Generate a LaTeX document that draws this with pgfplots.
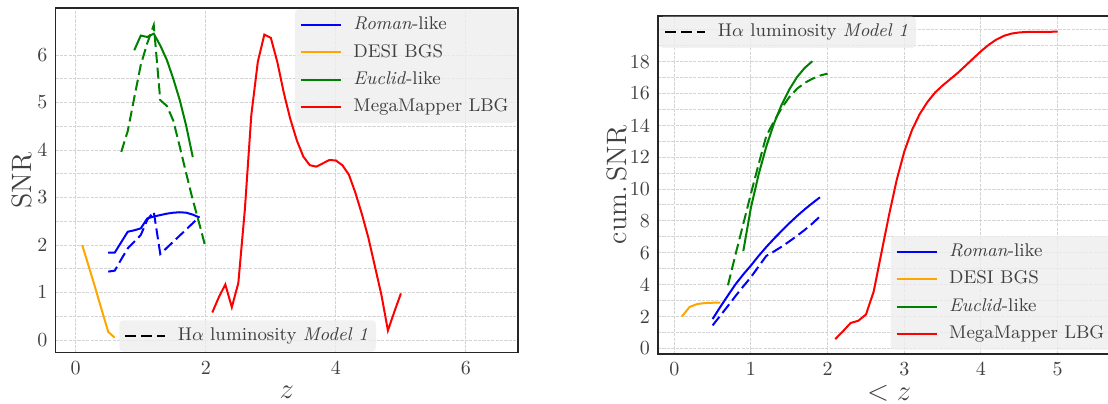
\documentclass[border=0pt]{standalone}
\usepackage{fontspec}
\usepackage{pgfplots}
\pgfplotsset{compat=1.18}
\definecolor{mplblue}{RGB}{0,0,255}
\definecolor{mplorange}{RGB}{255,165,0}
\definecolor{mplgreen}{RGB}{0,128,0}
\definecolor{mplred}{RGB}{255,0,0}
\definecolor{gridc}{RGB}{212,212,212}
\definecolor{spinec}{RGB}{38,38,38}
\definecolor{tickc}{RGB}{64,64,64}
\definecolor{legfill}{RGB}{238,238,238}

\pgfplotsset{
  mystyle/.style={
    scale only axis, width=231.25pt,
    axis line style={spinec, line width=0.9pt},
    grid=both,
    major grid style={gridc, dash pattern=on 1.6pt off 0.6pt, line width=0.5pt},
    minor grid style={gridc, dash pattern=on 1.6pt off 0.6pt, line width=0.5pt},
    major tick length=0pt, minor tick length=0pt,
    tick label style={font=\fontsize{10}{12}\selectfont, text=tickc},
    xticklabel style={yshift=-1pt},
    yticklabel style={xshift=-0.5pt},
    label style={font=\fontsize{14}{16}\selectfont, text=tickc},
    legend cell align=left,
    legend style={font=\fontsize{9.2}{11}\selectfont, fill=legfill, fill opacity=0.8, text opacity=1,
      draw=none, rounded corners=2pt, inner xsep=2.5pt, inner ysep=2pt, row sep=2.1pt, text=tickc,
      nodes={inner sep=1.5pt, text height=6.6pt, text depth=2pt}},
    legend image code/.code={\draw[##1, line width=1pt] (0pt,0pt) -- (20pt,0pt); \path[draw=none, fill=none] (0pt,-1pt) rectangle (24.8pt,1pt);},
    every axis plot/.append style={line width=1pt},
  },
  dsh/.style={dash pattern=on 5.5pt off 2.4pt},
}

\begin{document}
\begin{tikzpicture}
% ---------------- left panel ----------------
\begin{axis}[mystyle, at={(27.75pt,25.25pt)}, anchor=south west, height=172.25pt,
  xmin=-0.311, xmax=6.80, ymin=-0.263, ymax=6.99,
  xtick={0,2,4,6}, ytick={0,1,2,3,4,5,6}, minor y tick num=1,
  xlabel={$z$}, ylabel={SNR},
  xlabel style={at={(axis description cs:0.5,-0.116)}, anchor=center, text depth=0pt},
  ylabel style={at={(axis description cs:-0.0724,0.5)}, anchor=center},
  legend style={at={(1,1)}, anchor=north east, xshift=-0.5pt, yshift=-0.5pt}]
\addplot[mplblue] coordinates {(0.5,1.84)(0.6,1.84)(0.7,2.06)(0.8,2.28)(0.9,2.31)(1.0,2.35)(1.1,2.56)(1.2,2.60)(1.3,2.63)(1.4,2.66)(1.5,2.68)(1.6,2.69)(1.7,2.68)(1.8,2.64)(1.9,2.58)};
\addlegendentry{\textit{Roman}-like}
\addplot[mplorange] coordinates {(0.1,2.0)(0.2,1.55)(0.3,1.1)(0.4,0.63)(0.5,0.17)(0.6,0.05)};
\addlegendentry{DESI BGS}
\addplot[mplgreen] coordinates {(0.9,6.1)(1.0,6.41)(1.1,6.38)(1.2,6.45)(1.3,6.2)(1.4,5.9)(1.5,5.5)(1.6,5.05)(1.7,4.5)(1.8,3.85)};
\addlegendentry{\textit{Euclid}-like}
\addplot[mplred] coordinates {(2.1,0.58)(2.2,0.9)(2.3,1.17)(2.4,0.69)(2.5,1.2)(2.6,2.74)(2.7,4.74)(2.8,5.86)(2.9,6.43)(3.0,6.36)(3.1,5.85)(3.2,5.2)(3.3,4.65)(3.4,4.2)(3.5,3.86)(3.6,3.68)(3.7,3.65)(3.8,3.72)(3.9,3.79)(4.0,3.78)(4.1,3.68)(4.2,3.48)(4.3,3.1)(4.4,2.65)(4.5,2.15)(4.6,1.55)(4.7,0.95)(4.8,0.2)(4.9,0.6)(5.0,0.98)};
\addlegendentry{MegaMapper LBG}
\addplot[mplblue, dsh, forget plot] coordinates {(0.5,1.44)(0.6,1.46)(0.7,1.7)(0.8,1.93)(0.9,2.07)(1.0,2.21)(1.1,2.53)(1.2,2.70)(1.3,1.81)(1.4,1.94)(1.5,2.07)(1.6,2.2)(1.7,2.33)(1.8,2.46)(1.9,2.6)};
\addplot[mplgreen, dsh, forget plot] coordinates {(0.7,3.96)(0.8,4.4)(0.9,5.1)(1.0,5.79)(1.1,6.25)(1.2,6.63)(1.3,5.05)(1.4,4.93)(1.5,4.62)(1.6,4.07)(1.7,3.5)(1.8,2.95)(1.9,2.45)(2.0,1.93)};
\end{axis}
\begin{axis}[mystyle, hide axis, at={(27.75pt,25.25pt)}, anchor=south west, height=172.25pt,
  xmin=0, xmax=1, ymin=0, ymax=1,
  legend style={at={(0.137,0)}, anchor=south west, yshift=0.3pt}]
\addlegendimage{black, dsh, line width=1pt}
\addlegendentry{H$\alpha$ luminosity \textit{Model 1}}
\end{axis}
% ---------------- right panel ----------------
\begin{axis}[mystyle, at={(329pt,24.5pt)}, anchor=south west, height=169.15pt,
  xmin=-0.2125, xmax=5.82, ymin=-0.358, ymax=20.88,
  xtick={0,1,2,3,4,5,6}, ytick={0,2,...,20}, yticklabels={0,2,4,6,8,10,12,14,16,18,{}},
  minor y tick num=1,
  xlabel={$<z$}, ylabel={cum.\,SNR},
  xlabel style={at={(axis description cs:0.5,-0.1145)}, anchor=center, text depth=0pt},
  ylabel style={at={(axis description cs:-0.0886,0.5)}, anchor=center},
  legend style={at={(0.502,0.012)}, anchor=south west}]
\addplot[mplblue] coordinates {(0.5,1.84)(0.6,2.60)(0.7,3.32)(0.8,4.03)(0.9,4.64)(1.0,5.20)(1.1,5.80)(1.2,6.36)(1.3,6.88)(1.4,7.37)(1.5,7.85)(1.6,8.30)(1.7,8.72)(1.8,9.11)(1.9,9.48)};
\addlegendentry{\textit{Roman}-like}
\addplot[mplorange] coordinates {(0.1,2.0)(0.2,2.6)(0.3,2.78)(0.4,2.84)(0.5,2.86)(0.6,2.86)};
\addlegendentry{DESI BGS}
\addplot[mplgreen] coordinates {(0.9,6.10)(1.0,8.85)(1.1,10.91)(1.2,12.67)(1.3,14.11)(1.4,15.29)(1.5,16.25)(1.6,17.02)(1.7,17.60)(1.8,18.02)};
\addlegendentry{\textit{Euclid}-like}
\addplot[mplred] coordinates {(2.1,0.58)(2.2,1.07)(2.3,1.59)(2.4,1.73)(2.5,2.12)(2.6,3.55)(2.7,5.95)(2.8,8.35)(2.9,10.55)(3.0,12.35)(3.1,13.7)(3.2,14.7)(3.3,15.45)(3.4,16.05)(3.5,16.5)(3.6,16.9)(3.7,17.3)(3.8,17.75)(3.9,18.2)(4.0,18.65)(4.1,19.05)(4.2,19.38)(4.3,19.62)(4.4,19.76)(4.5,19.83)(4.6,19.86)(4.7,19.87)(4.8,19.87)(4.9,19.87)(5.0,19.88)};
\addlegendentry{MegaMapper LBG}
\addplot[mplblue, dsh, forget plot] coordinates {(0.5,1.44)(0.6,2.05)(0.7,2.66)(0.8,3.29)(0.9,3.89)(1.0,4.47)(1.1,5.14)(1.2,5.80)(1.3,6.08)(1.4,6.38)(1.5,6.71)(1.6,7.06)(1.7,7.43)(1.8,7.83)(1.9,8.28)};
\addplot[mplgreen, dsh, forget plot] coordinates {(0.7,3.96)(0.8,5.92)(0.9,7.81)(1.0,9.72)(1.1,11.56)(1.2,13.33)(1.3,14.25)(1.4,15.08)(1.5,15.77)(1.6,16.29)(1.7,16.66)(1.8,16.92)(1.9,17.12)(2.0,17.25)};
\end{axis}
\begin{axis}[mystyle, hide axis, at={(329pt,24.5pt)}, anchor=south west, height=169.15pt,
  xmin=0, xmax=1, ymin=0, ymax=1,
  legend style={at={(0.002,1)}, anchor=north west, yshift=-0.3pt}]
\addlegendimage{black, dsh, line width=1pt}
\addlegendentry{H$\alpha$ luminosity \textit{Model 1}}
\end{axis}
\pgfresetboundingbox
\useasboundingbox (0pt,0pt) rectangle (554pt,201.5pt);
\end{tikzpicture}
\end{document}
